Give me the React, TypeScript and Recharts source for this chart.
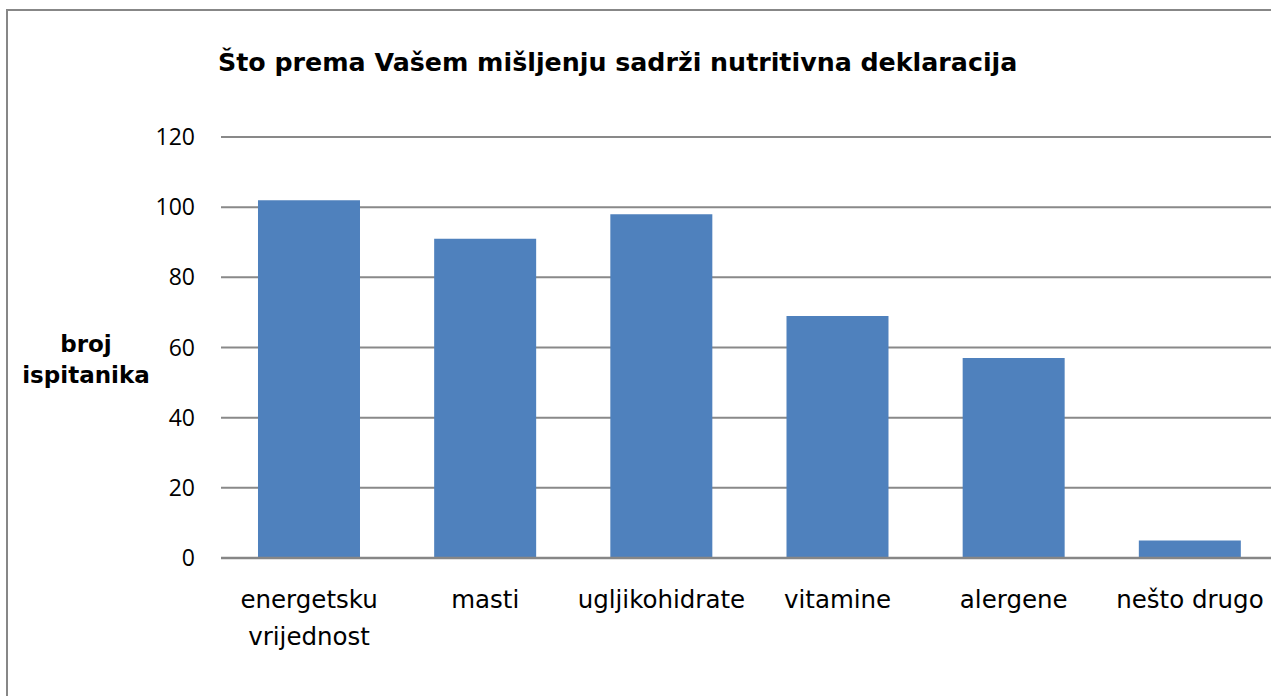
import { BarChart, Bar, XAxis, YAxis, CartesianGrid, Label } from 'recharts'

const categories = ['energetsku vrijednost', 'masti', 'ugljikohidrate', 'vitamine', 'alergene', 'nešto drugo']
const counts = [102, 91, 98, 69, 57, 5]
const yTicks = [0, 20, 40, 60, 80, 100, 120]

const TITLE = 'Što prema Vašem mišljenju sadrži nutritivna deklaracija'
const Y_LABEL = ['broj', 'ispitanika']

const data = categories.map((name, i) => ({ name, count: counts[i] }))

const CAT_FONT = "'DejaVu Sans', sans-serif"

// category labels wrap to two lines like in the original
function CategoryTick({ x, y, payload }: { x?: number; y?: number; payload?: { value: string } }) {
  const words = (payload?.value ?? '').split(' ')
  const lines = words.length > 1 && payload!.value.length > 14 ? words : [payload?.value ?? '']
  return (
    <text x={x} y={(y ?? 0) + 48} textAnchor="middle" fill="#000" fontSize={24.5} fontFamily={CAT_FONT}>
      {lines.map((l, i) => (
        <tspan key={i} x={x} dy={i === 0 ? 0 : 37}>{l}</tspan>
      ))}
    </text>
  )
}

function YTitle() {
  return (
    <text x={78} y={341} textAnchor="middle" fill="#000" fontSize={23} fontWeight="bold" fontFamily={CAT_FONT}>
      {Y_LABEL.map((l, i) => (
        <tspan key={i} x={78} dy={i === 0 ? 0 : 31}>{l}</tspan>
      ))}
    </text>
  )
}

export default function App() {
  // the original chart is cut off on the right and at the bottom
  return (
    <div
      style={{
        position: 'absolute', left: 6, top: 9, width: 1265, height: 687, overflow: 'hidden',
        borderLeft: '2px solid #878787', borderTop: '2px solid #878787', boxSizing: 'border-box',
        background: '#fff',
      }}
    >
      <BarChart
        width={1270}
        height={690}
        data={data}
        margin={{ top: 126, right: 0, left: 0, bottom: 63 }}
        barCategoryGap="21%"
      >
        <text x={210} y={60} fill="#000" fontSize={25.3} fontWeight="bold" fontFamily={CAT_FONT}>
          {TITLE}
        </text>
        <CartesianGrid vertical={false} stroke="#898989" strokeWidth={2} />
        <XAxis
          dataKey="name"
          height={80}
          interval={0}
          tickLine={false}
          tickSize={0}
          axisLine={{ stroke: '#868686', strokeWidth: 2.5 }}
          tick={<CategoryTick />}
        />
        <YAxis
          width={213}
          domain={[0, 120]}
          ticks={yTicks}
          axisLine={false}
          tickLine={false}
          tickSize={0}
          tickMargin={26}
          tick={{ fill: '#000', fontSize: 23, fontFamily: "'Open Sans', sans-serif" }}
        >
          <Label content={<YTitle />} />
        </YAxis>
        <Bar dataKey="count" fill="#4F81BD" isAnimationActive={false} />
      </BarChart>
    </div>
  )
}
